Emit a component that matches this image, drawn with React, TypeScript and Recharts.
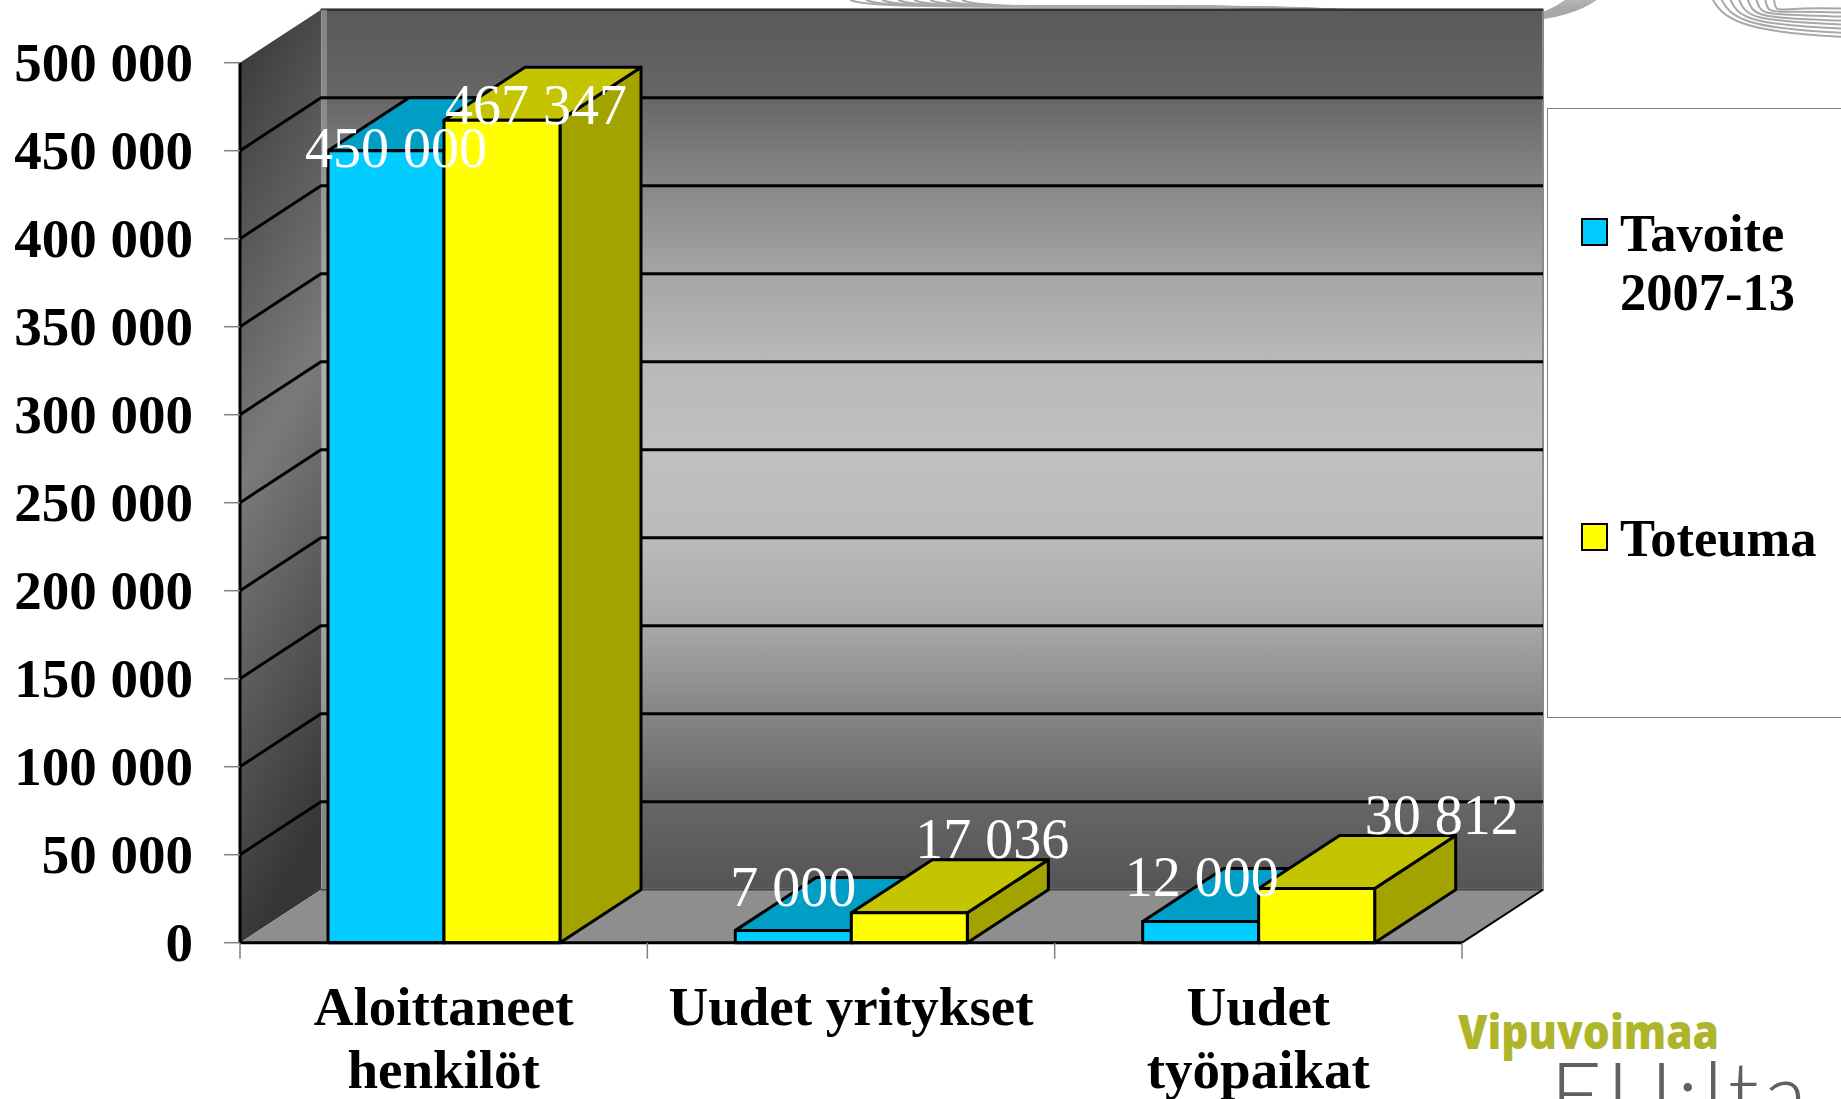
import React from 'react';
import { BarChart, Bar, XAxis, YAxis, CartesianGrid, ReferenceArea, Legend } from 'recharts';

const categories = ['Aloittaneet henkilöt', 'Uudet yritykset', 'Uudet työpaikat'];
const categoryLines = [['Aloittaneet', 'henkilöt'], ['Uudet yritykset'], ['Uudet', 'työpaikat']];
const tavoite = [450000, 7000, 12000];
const toteuma = [467347, 17036, 30812];
const tavoiteLabels = ['450 000', '7 000', '12 000'];
const toteumaLabels = ['467 347', '17 036', '30 812'];
const yTicks = [0, 50000, 100000, 150000, 200000, 250000, 300000, 350000, 400000, 450000, 500000];
const legendLines: Record<string, string[]> = { Tavoite: ['Tavoite', '2007-13'], Toteuma: ['Toteuma'] };
const seriesNames = ['Tavoite', 'Toteuma'];

const rows = categories.map((name, i) => ({ name, Tavoite: tavoite[i], Toteuma: toteuma[i] }));

// layout / style
const W = 1841;
const H = 1099;
const M = { top: 62.7, right: 379, left: 0, bottom: 0 };
const PLOT_L = 240;
const PLOT_R = W - M.right;
const BASE_Y = H - 156.3;
const DX = 81;
const DY = 53;
const SERIF = '"Liberation Serif", "Times New Roman", serif';
const FS = 55;
const tavoiteNudge = [[10, 16], [0, -24], [1, -26]];
const toteumaNudge = [[34, 4], [83, -55], [125, -54]];

const fmt = (v: number) => String(v).replace(/\B(?=(\d{3})+$)/g, ' ');

function Walls(p: any) {
  const { x, y, width, height } = p;
  const b = y + height;
  const r = x + width;
  return (
    <g>
      <defs>
        <linearGradient id="backG" x1="0" y1="0" x2="0" y2="1">
          <stop offset="0" stopColor="#5a5a5a" />
          <stop offset="0.1" stopColor="#666666" />
          <stop offset="0.2" stopColor="#888888" />
          <stop offset="0.3" stopColor="#a5a5a5" />
          <stop offset="0.4" stopColor="#b9b9b9" />
          <stop offset="0.5" stopColor="#c0c0c0" />
          <stop offset="0.6" stopColor="#bbbbbb" />
          <stop offset="0.7" stopColor="#a8a8a8" />
          <stop offset="0.8" stopColor="#858585" />
          <stop offset="0.9" stopColor="#666666" />
          <stop offset="1" stopColor="#555555" />
        </linearGradient>
        <linearGradient id="leftG" x1="0" y1="0" x2="0.15" y2="1">
          <stop offset="0" stopColor="#363636" />
          <stop offset="0.5" stopColor="#7a7a7a" />
          <stop offset="1" stopColor="#363636" />
        </linearGradient>
      </defs>
      <rect x={x + DX} y={y - DY} width={width} height={height} fill="url(#backG)" stroke="#8a8a8a" strokeWidth={2} />
      <line x1={x + DX} y1={y - DY} x2={r + DX} y2={y - DY} stroke="#333" strokeWidth={2.5} />
      <polygon points={`${x},${y} ${x + DX},${y - DY} ${x + DX},${b - DY} ${x},${b}`} fill="url(#leftG)" />
      <rect x={x + DX} y={y - DY} width={6} height={height} fill="#a0a0a0" opacity={0.6} />
      <polygon points={`${x},${b} ${x + DX},${b - DY} ${r + DX},${b - DY} ${r},${b}`} fill="#8e8e8e" />
      <line x1={x + DX} y1={b - DY} x2={r + DX} y2={b - DY} stroke="#444" strokeWidth={1.5} />
      <line x1={r} y1={b} x2={r + DX} y2={b - DY} stroke="#000" strokeWidth={2} />
    </g>
  );
}

function GridLine(p: any) {
  const { x1, x2, y1, key } = p;
  if (Math.abs(y1 - BASE_Y) < 2 || y1 < M.top + 2) return <g key={key} />;
  return (
    <polyline
      key={key}
      points={`${x1},${y1} ${x1 + DX},${y1 - DY} ${x2 + DX},${y1 - DY}`}
      fill="none"
      stroke="#000"
      strokeWidth={3}
    />
  );
}

function box(top: string, side: string) {
  return function Box(p: any) {
    const { x, y, width, height, fill } = p;
    const r = x + width;
    const b = y + height;
    return (
      <g stroke="#000" strokeWidth={3} strokeLinejoin="round">
        <polygon points={`${r},${y} ${r + DX},${y - DY} ${r + DX},${b - DY} ${r},${b}`} fill={side} />
        <polygon points={`${x},${y} ${x + DX},${y - DY} ${r + DX},${y - DY} ${r},${y}`} fill={top} />
        <rect x={x} y={y} width={width} height={height} fill={fill} />
      </g>
    );
  };
}

function dataLabel(texts: string[], nudges: number[][]) {
  return function DataLabel(p: any) {
    const { x, y, width, index } = p;
    return (
      <text
        x={x + width / 2 + nudges[index][0]}
        y={y + nudges[index][1]}
        textAnchor="middle"
        fontFamily={SERIF}
        fontSize={56}
        fill="#fff"
      >
        {texts[index]}
      </text>
    );
  };
}

function CategoryTick(p: any) {
  const { x, index } = p;
  const half = (PLOT_R - PLOT_L) / categories.length / 2;
  return (
    <g>
      <line x1={x - half} y1={BASE_Y} x2={x - half} y2={BASE_Y + 16} stroke="#808080" strokeWidth={1.5} />
      {index === categories.length - 1 && (
        <line x1={x + half} y1={BASE_Y} x2={x + half} y2={BASE_Y + 16} stroke="#808080" strokeWidth={1.5} />
      )}
      <text textAnchor="middle" fontFamily={SERIF} fontSize={FS} fontWeight="bold" fill="#000">
        {categoryLines[index].map((t, i) => (
          <tspan key={t} x={x} y={1025 + i * 63}>
            {t}
          </tspan>
        ))}
      </text>
    </g>
  );
}

function LegendBox(p: any) {
  const rowsTop = [217, 522];
  return (
    <div
      style={{
        position: 'absolute',
        left: 0,
        top: 0,
        width: W - 1547 + 10,
        height: 610,
        boxSizing: 'border-box',
        border: '1.5px solid #808080',
        background: '#fff',
        fontFamily: SERIF,
        fontSize: 52.5,
        fontWeight: 'bold',
        color: '#000',
      }}
    >
      {p.payload.map((e: any, i: number) => (
        <div key={e.value} style={{ position: 'absolute', left: 33, top: rowsTop[i] - 108 }}>
          <div
            style={{
              position: 'absolute',
              left: 0,
              top: 0,
              width: 27,
              height: 28,
              boxSizing: 'border-box',
              background: e.color,
              border: '2.5px solid #000',
            }}
          />
          <div style={{ position: 'absolute', left: 39, top: -14, lineHeight: '59px', whiteSpace: 'nowrap' }}>
            {legendLines[e.value].map((t) => (
              <div key={t}>{t}</div>
            ))}
          </div>
        </div>
      ))}
    </div>
  );
}

const swirlOffsets = [0, 4, 8, 12, 16, 20, 24, 28];

function Decoration() {
  return (
    <svg width={W} height={H} style={{ position: 'absolute', left: 0, top: 0 }}>
      <g fill="none" stroke="#a8a8a8" strokeWidth={2}>
        {swirlOffsets.map((d) => (
          <g key={d}>
            <path d={`M${850 + d * 4},0 C${880 + d * 4},14 ${1200},-2 ${1380 + d},14 C${1480},22 ${1560 - d},30 ${1600 - d},-4`} />
            <path d={`M${1712 + d * 2.2},-2 C${1722 + d * 2},18 ${1740 + d},${33 - d} ${1850},${37 - d}`} />
          </g>
        ))}
      </g>
      <text x={1458} y={1049} fontFamily='"Open Sans", sans-serif' fontWeight={800} fontSize={48} fill="#afb52b" textLength={261} lengthAdjust="spacingAndGlyphs">
        Vipuvoimaa
      </text>
      <text x={1550} y={1127} fontFamily='Lato, "Open Sans", sans-serif' fontWeight={300} fontSize={90} fill="#5f5f64" textLength={257} lengthAdjust="spacing">
        EU:lta
      </text>
    </svg>
  );
}

export default function App() {
  return (
    <div style={{ position: 'absolute', left: 0, top: 0, width: W, height: H, overflow: 'hidden', background: '#fff' }}>
      <Decoration />
      <div style={{ position: 'absolute', left: 0, top: 0 }}>
        <BarChart width={W} height={H} data={rows} margin={M} barSize={116} barGap={0}>
          <ReferenceArea {...({ zIndex: -200 } as any)} y1={0} y2={500000} fill="none" stroke="none" shape={Walls} />
          <CartesianGrid vertical={false} horizontal={GridLine as any} />
          <XAxis dataKey="name" interval={0} height={156.3} tickLine={false} axisLine={{ stroke: '#000', strokeWidth: 3 }} tick={CategoryTick as any} />
          <YAxis
            width={240}
            domain={[0, 500000]}
            ticks={yTicks}
            interval={0}
            tickSize={16}
            tickMargin={31}
            tickFormatter={fmt}
            axisLine={{ stroke: '#000', strokeWidth: 3 }}
            tickLine={{ stroke: '#808080', strokeWidth: 1.5 }}
            tick={{ fontFamily: SERIF, fontSize: FS, fontWeight: 'bold', fill: '#000', dy: -1 }}
          />
          <Legend
            verticalAlign="top"
            align="right"
            layout="horizontal"
            wrapperStyle={{ position: 'absolute', left: 1547, top: 108, width: 0, height: 0 }}
            content={LegendBox as any}
          />
          <Bar dataKey={seriesNames[0]} name={seriesNames[0]} fill="#00ccff" isAnimationActive={false} shape={box('#009dc4', '#007f9f')} label={dataLabel(tavoiteLabels, tavoiteNudge) as any} />
          <Bar dataKey={seriesNames[1]} name={seriesNames[1]} fill="#ffff00" isAnimationActive={false} shape={box('#c4c400', '#a3a300')} label={dataLabel(toteumaLabels, toteumaNudge) as any} />
        </BarChart>
      </div>
    </div>
  );
}
